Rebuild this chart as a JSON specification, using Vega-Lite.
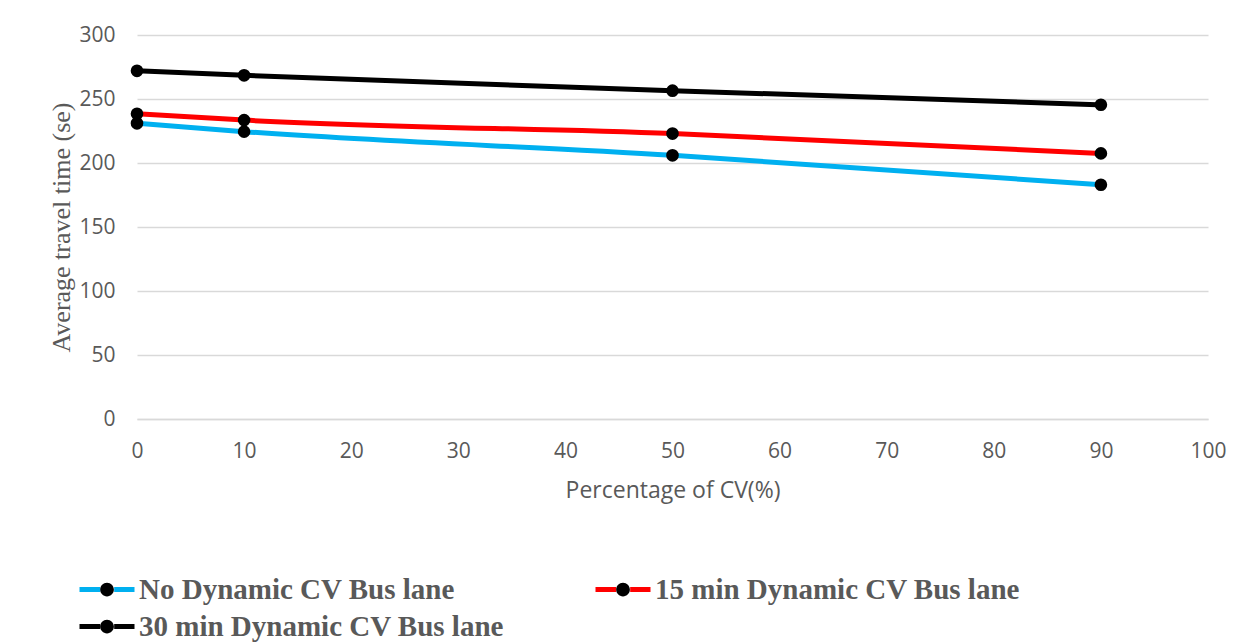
{
  "$schema": "https://vega.github.io/schema/vega-lite/v6.json",
  "autosize": "none",
  "width": 1071,
  "height": 384,
  "padding": {"left": 137, "top": 35, "right": 45, "bottom": 225},
  "background": "white",
  "data": {
    "values": [
      {"cv": 0, "time": 231, "series": "No Dynamic CV Bus lane"},
      {"cv": 10, "time": 224.5, "series": "No Dynamic CV Bus lane"},
      {"cv": 50, "time": 206, "series": "No Dynamic CV Bus lane"},
      {"cv": 90, "time": 183, "series": "No Dynamic CV Bus lane"},
      {"cv": 0, "time": 238.5, "series": "15 min Dynamic CV Bus lane"},
      {"cv": 10, "time": 233.5, "series": "15 min Dynamic CV Bus lane"},
      {"cv": 50, "time": 223, "series": "15 min Dynamic CV Bus lane"},
      {"cv": 90, "time": 207.5, "series": "15 min Dynamic CV Bus lane"},
      {"cv": 0, "time": 272, "series": "30 min Dynamic CV Bus lane"},
      {"cv": 10, "time": 268.5, "series": "30 min Dynamic CV Bus lane"},
      {"cv": 50, "time": 256.5, "series": "30 min Dynamic CV Bus lane"},
      {"cv": 90, "time": 245.5, "series": "30 min Dynamic CV Bus lane"}
    ]
  },
  "config": {
    "view": {"stroke": null},
    "axis": {
      "labelColor": "#595959",
      "titleColor": "#595959",
      "labelFont": "Open Sans",
      "labelFontSize": 21,
      "labelFlush": false,
      "gridColor": "#d9d9d9",
      "gridWidth": 1.3,
      "ticks": false,
      "domain": false
    }
  },
  "encoding": {
    "x": {
      "field": "cv",
      "type": "quantitative",
      "scale": {"domain": [0, 100], "nice": false},
      "axis": {
        "title": "Percentage of CV(%)",
        "titleFont": "Open Sans",
        "titleFontSize": 23,
        "titleFontWeight": "normal",
        "titlePadding": 18,
        "values": [0, 10, 20, 30, 40, 50, 60, 70, 80, 90, 100],
        "grid": false,
        "domain": true,
        "domainColor": "#d9d9d9",
        "domainWidth": 1.3,
        "labelPadding": 21
      }
    },
    "y": {
      "field": "time",
      "type": "quantitative",
      "scale": {"domain": [0, 300], "nice": false},
      "axis": {
        "title": "Average travel time (se)",
        "titleFont": "Liberation Serif",
        "titleFontSize": 26,
        "titleFontWeight": "normal",
        "titlePadding": 4,
        "values": [0, 50, 100, 150, 200, 250, 300],
        "grid": true,
        "labelPadding": 22
      }
    }
  },
  "layer": [
    {
      "mark": {"type": "line", "interpolate": "monotone", "strokeWidth": 5},
      "encoding": {
        "stroke": {
          "field": "series",
          "type": "nominal",
          "scale": {
            "domain": ["No Dynamic CV Bus lane", "15 min Dynamic CV Bus lane", "30 min Dynamic CV Bus lane"],
            "range": ["#00b0f0", "#ff0000", "#000000"]
          },
          "legend": {
            "title": null,
            "orient": "none",
            "legendX": -60,
            "legendY": 536,
            "direction": "horizontal",
            "columns": 2,
            "columnPadding": 89,
            "rowPadding": 0,
            "clipHeight": 37,
            "padding": 0,
            "symbolType": "M-1,0H-0.25C-0.25,-0.138 -0.138,-0.25 0,-0.25C0.138,-0.25 0.25,-0.138 0.25,0C0.25,0.138 0.138,0.25 0,0.25C-0.138,0.25 -0.25,0.138 -0.25,0H0.25H1",
            "symbolSize": 3025,
            "symbolStrokeWidth": 5,
            "symbolDash": [20.6, 57, 21, 1000],
            "symbolOpacity": 1,
            "labelFont": "Liberation Serif",
            "labelFontSize": 29,
            "labelFontWeight": "bold",
            "labelColor": "#595959",
            "labelOffset": 2,
            "labelLimit": 0,
            "encode": {"symbols": {"update": {"fill": {"value": "black"}, "fillOpacity": {"value": 1}}}}
          }
        }
      }
    },
    {
      "mark": {"type": "point", "filled": true, "fill": "black", "size": 160, "opacity": 1},
      "encoding": {}
    }
  ]
}
